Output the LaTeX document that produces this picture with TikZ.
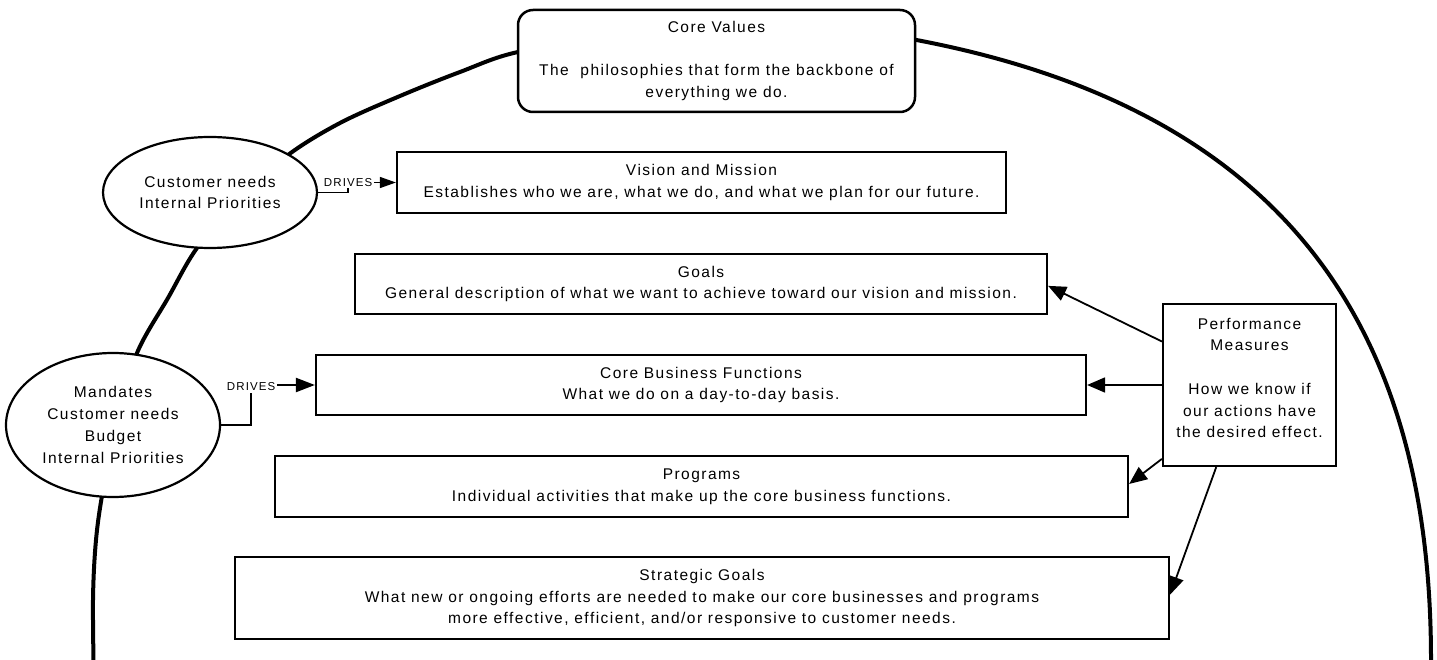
\documentclass[tikz,border=0pt]{standalone}
\usepackage{fontspec}
\setmainfont{Liberation Sans}[LetterSpace=9.5]
\usetikzlibrary{shapes.geometric,arrows.meta,calc}
\begin{document}
\begin{tikzpicture}[x=1pt,y=-1pt,
  every node/.style={font=\fontsize{15.5}{21.7}\selectfont, align=center, inner sep=0pt, text=black},
  rbox/.style={draw, line width=2.2pt, fill=white},
  ebox/.style={draw, ellipse, line width=2.2pt, fill=white},
  arcline/.style={line width=4pt},
  parrow/.style={line width=1.8pt, -{Triangle[length=18pt,width=15pt]}},
  driveslabel/.style={font=\fontsize{11.5}{13}\selectfont, fill=white, inner sep=1.5pt}]
\clip (0,0) rectangle (1437,660);
\useasboundingbox (0,0) rectangle (1437,660);
% big arc
\draw[arcline] plot[smooth, tension=0.55] coordinates {
  (94,690) (93,600) (96,540) (103,490) (117,420) (137,353) (168,298) (197,248)
  (240,198) (288,155) (340,123) (400,96) (460,72) (518,52) (620,37) (720,33)
  (820,34) (900,37)}
  .. controls (1288,105) and (1431,330) .. (1431,660) -- (1431,690);
% nodes
\node[rbox, rounded corners=15pt, line width=2.5pt, minimum width=397pt, minimum height=102pt] (corevals) at (716.5,61)
  {Core Values\\[21.7pt]The\ \ philosophies that form the backbone of\\everything we do.};
\node[ebox, minimum width=214pt, minimum height=111pt] (cust) at (210,192.5)
  {Customer needs\\Internal Priorities};
\node[ebox, minimum width=214pt, minimum height=144pt] (mand) at (113,425)
  {Mandates\\Customer needs\\Budget\\Internal Priorities};
\node[rbox, minimum width=609pt, minimum height=61pt] (vision) at (701.5,182.5)
  {Vision and Mission\\Establishes who we are, what we do, and what we plan for our future.};
\node[rbox, minimum width=692pt, minimum height=60pt] (goals) at (701,284)
  {Goals\\General description of what we want to achieve toward our vision and mission.};
\node[rbox, minimum width=770pt, minimum height=60pt] (corebus) at (701,385)
  {Core Business Functions\\What we do on a day-to-day basis.};
\node[rbox, minimum width=853pt, minimum height=61pt] (programs) at (701.5,486.5)
  {Programs\\Individual activities that make up the core business functions.};
\node[rbox, minimum width=934pt, minimum height=82pt] (strategic) at (702,598)
  {Strategic Goals\\What new or ongoing efforts are needed to make our core businesses and programs\\more effective, efficient, and/or responsive to customer needs.};
\node[rbox, minimum width=173pt, minimum height=162pt] (perf) at (1249.5,385) {};
\node (perftxt) at (1249.5,378)
  {Performance\\Measures\\[21.7pt]How we know if\\our actions have\\the desired effect.};
% drives connectors
\draw[line width=1.3pt, -{Triangle[length=16pt,width=11pt]}] (cust.east) -- ++(30,0) coordinate (d1) |- (vision.west);
\node[driveslabel] (drives1) at (d1 |- vision.west) {DRIVES};
\draw[line width=2.2pt, -{Triangle[length=19pt,width=14pt]}] (mand.east) -- ++(30,0) coordinate (d2) |- (corebus.west);
\node[driveslabel] (drives2) at ($(d2 |- corebus.west)+(0,2)$) {DRIVES};
% performance arrows
\draw[parrow] ($(perf.north west)!0.235!(perf.south west)$) -- ($(goals.north east)!0.53!(goals.south east)$);
\draw[parrow] (perf.west) -- (corebus.east);
\draw[parrow] ($(perf.north west)!0.95!(perf.south west)$) -- ($(programs.north east)!0.46!(programs.south east)$);
\draw[parrow] ($(perf.south west)!0.31!(perf.south east)$) -- ($(strategic.north east)!0.46!(strategic.south east)$);
\end{tikzpicture}
\end{document}
